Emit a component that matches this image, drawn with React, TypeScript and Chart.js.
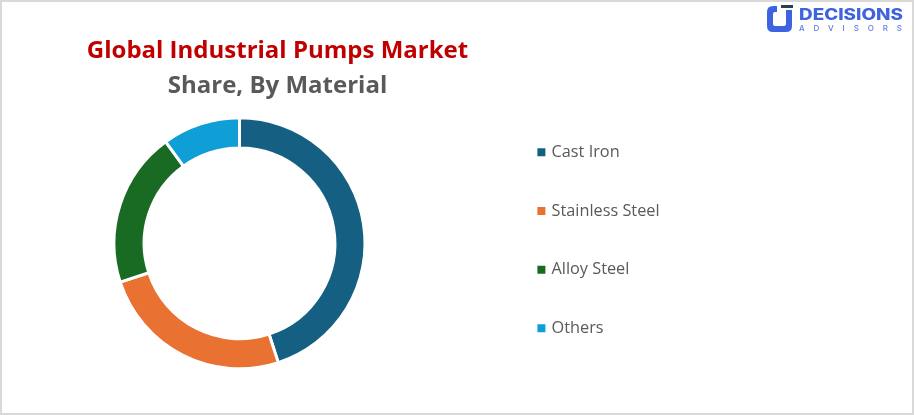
// @ts-nocheck
import {useEffect, useRef} from "react";
import {Chart, registerables} from "chart.js";

Chart.register(...registerables);

const titleLine = "Global Industrial Pumps Market";
const subtitleLine = "Share, By Material";
const materials = ["Cast Iron", "Stainless Steel", "Alloy Steel", "Others"];
const shares = [45, 25, 20, 10];
const colors = ["#156082", "#E97132", "#196B24", "#0F9ED5"];

// the ring, the heading and the legend don't share a centre in the original,
// so the boxes get moved once chart.js has laid them out
const placeBoxes = {
    id: "placeBoxes",
    afterLayout(chart) {
        chart.boxes.forEach((box) => {
            if (box.position === "top") {
                box.left = 0;
                box.right = 555;
            }
        });
        const legend = chart.legend;
        legend.left = 497;
        legend.right = 760;
        legend.top = 101.7;
        legend.bottom = 415;
    },
};

export default function App() {
    const chartRef = useRef(null);

    useEffect(() => {
        document.body.style.margin = "0";
        const chart = new Chart(chartRef.current.getContext("2d"), {
            type: "doughnut",
            data: {
                labels: materials,
                datasets: [
                    {
                        data: shares,
                        backgroundColor: colors,
                        borderColor: "#ffffff",
                        borderWidth: 3,
                    },
                ],
            },
            options: {
                animation: false,
                responsive: false,
                cutout: "76%",
                layout: {padding: {left: 112.5, right: 547.5, top: 37, bottom: 44}},
                plugins: {
                    title: {
                        display: true,
                        text: titleLine,
                        color: "#C00000",
                        font: {family: "'Open Sans'", size: 24, weight: "bold"},
                        padding: {top: 0, bottom: 0},
                    },
                    subtitle: {
                        display: true,
                        text: subtitleLine,
                        color: "#595959",
                        font: {family: "'Open Sans'", size: 24, weight: "bold"},
                        padding: {top: 6, bottom: 15},
                    },
                    legend: {
                        position: "chartArea",
                        align: "start",
                        labels: {
                            usePointStyle: true,
                            pointStyle: "rect",
                            boxWidth: 4, // keeps the label close to the square
                            boxHeight: 8,
                            padding: 42.4,
                            color: "#595959",
                            font: {family: "'Open Sans'", size: 16.3},
                            generateLabels: (c) =>
                                Chart.overrides.doughnut.plugins.legend.labels.generateLabels(c).map((item) => ({...item, lineWidth: 0})),
                        },
                    },
                    tooltip: {enabled: false},
                },
            },
            plugins: [placeBoxes],
        });

        return () => {
            chart.destroy();
        };
    }, []);

    return (
        <div style={{position: "relative", width: 914, height: 415, overflow: "hidden"}}>
            <canvas ref={chartRef} width={914} height={415} style={{display: "block"}}/>
            <div style={{position: "absolute", inset: 0, border: "2px solid #D9D9D9", pointerEvents: "none"}}/>
            <svg width={150} height={36} viewBox="0 0 150 36" style={{position: "absolute", left: 764, top: 0}}>
                <path d="M13 6 H9 Q3 6 3 12 V26 Q3 32 9 32 H22 Q28 32 28 26 V10 H22 V24 Q22 26 20 26 H11 Q9 26 9 24 V14 Q9 12 11 12 H13 Z" fill="#3F62E0"/>
                <rect x="17" y="5" width="12" height="3" fill="#24424F"/>
                <text x="35" y="20" fontFamily="Inter" fontWeight="800" fontSize="15.5" fill="#3F62E0" textLength="104" lengthAdjust="spacingAndGlyphs">DECISIONS</text>
                <text x="35" y="31" fontFamily="Inter" fontWeight="500" fontSize="8" fill="#5F7FE3" textLength="103">ADVISORS</text>
            </svg>
        </div>
    );
}
